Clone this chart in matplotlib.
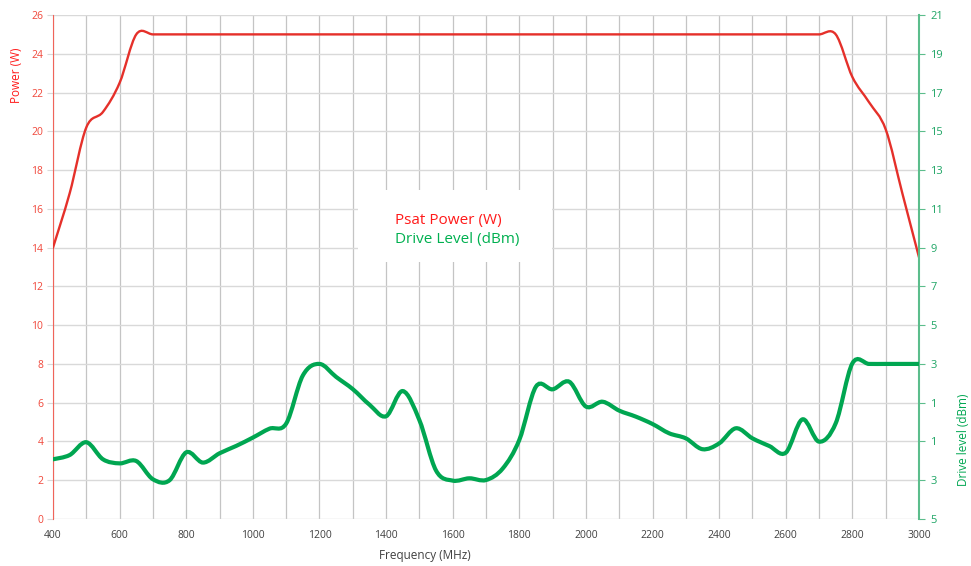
import numpy as np
import matplotlib
matplotlib.use("Agg")
import matplotlib.pyplot as plt
from matplotlib.path import Path
from matplotlib.patches import PathPatch, Rectangle
from matplotlib.ticker import FuncFormatter

# --- data ---
freq = list(range(400, 3001, 50))

psat_w = [14.0, 16.8, 20.2, 21.0, 22.5, 25.0] + [25.0] * 42 + \
         [22.8, 21.5, 20.1, 16.8, 13.5]

drive_dbm = [-1.92, -1.70, -1.04, -1.92, -2.13, -2.01, -2.95, -3.00,
             -1.56, -2.09, -1.61, -1.23, -0.80, -0.34, -0.08,
             2.40, 3.00, 2.33, 1.70, 0.90, 0.30, 1.60, 0.10, -2.50,
             -3.02, -2.90, -2.99, -2.40, -0.92, 1.83, 1.69, 2.08,
             0.80, 1.05, 0.59, 0.28, -0.10, -0.58, -0.84, -1.40,
             -1.10, -0.32, -0.84, -1.23, -1.58, 0.14, -1.01, -0.06,
             3.03, 3.0, 3.0, 3.0, 3.0]

freq_grid = list(range(400, 3001, 100))
power_ticks = list(range(0, 27, 2))
drive_ticks = list(range(-5, 22, 2))

RED = '#E5302A'
GREEN = '#00A651'


def smooth_path(x, y):
    """Excel style smoothed line as cubic bezier segments."""
    x = np.asarray(x, float)
    y = np.asarray(y, float)
    px = np.concatenate([[x[0]], x, [x[-1]]])
    py = np.concatenate([[y[0]], y, [y[-1]]])
    verts = [(x[0], y[0])]
    codes = [Path.MOVETO]
    for i in range(1, len(px) - 2):
        c1 = (px[i] + (px[i + 1] - px[i - 1]) / 6, py[i] + (py[i + 1] - py[i - 1]) / 6)
        c2 = (px[i + 1] - (px[i + 2] - px[i]) / 6, py[i + 1] - (py[i + 2] - py[i]) / 6)
        verts += [c1, c2, (px[i + 1], py[i + 1])]
        codes += [Path.CURVE4] * 3
    return Path(verts, codes)


plt.rcParams['font.family'] = ['Open Sans', 'DejaVu Sans']

fig = plt.figure(figsize=(9.71, 5.66), dpi=100)
ax = fig.add_axes([53 / 971, 1 - 519 / 566, 866 / 971, 504 / 566])
ax2 = ax.twinx()

# grid
ax.set_xlim(400, 3000)
ax.set_ylim(0, 26)
ax2.set_ylim(-5, 21)
ax.set_xticks(freq_grid)
ax.xaxis.set_major_formatter(FuncFormatter(lambda v, p: f"{int(v)}" if int(v) % 200 == 0 else ""))
ax.set_yticks(power_ticks)
ax2.set_yticks(drive_ticks)
ax.grid(axis='y', color='#D9D9D9', lw=1.0)
ax.grid(axis='x', color='#C4C4C4', lw=0.9)
ax.set_axisbelow(True)

# legend box
ax.add_patch(Rectangle((0.352, 0.51), 0.224, 0.143, transform=ax.transAxes,
                       facecolor='white', edgecolor='none', zorder=2))
ax.text(0.395, 0.593, 'Psat Power (W)', transform=ax.transAxes, color='#FF1A1A',
        fontsize=11, va='center', ha='left', zorder=3)
ax.text(0.395, 0.554, 'Drive Level (dBm)', transform=ax.transAxes, color='#00B050',
        fontsize=11, va='center', ha='left', zorder=3)

# lines
ax.add_patch(PathPatch(smooth_path(freq, psat_w), fill=False, edgecolor=RED,
                       lw=1.7, zorder=4, capstyle='round'))
ax2.add_patch(PathPatch(smooth_path(freq, drive_dbm), fill=False, edgecolor=GREEN,
                        lw=3.0, zorder=4, capstyle='round'))

# spines
for s in ['top', 'bottom']:
    ax.spines[s].set_visible(False)
    ax2.spines[s].set_visible(False)
ax.spines['right'].set_visible(False)
ax2.spines['left'].set_visible(False)
ax.spines['left'].set_color('#F0645A')
ax2.spines['right'].set_color('#5CBD8C')
ax2.spines['right'].set_linewidth(1.5)

# ticks
ax.tick_params(axis='x', length=0, labelsize=7.5, colors='#404040', pad=8)
ax.tick_params(axis='y', length=4, color='#D9D9D9', labelcolor='#F0473A', labelsize=7.5, pad=3)
ax2.tick_params(axis='y', length=4, color='#5CBD8C', labelcolor='#1EA565', labelsize=8, pad=4)
ax2.yaxis.set_major_formatter(FuncFormatter(lambda v, p: f"{abs(int(round(v)))}"))

fig.text(0.438, 0.018, 'Frequency (MHz)', color='#404040', fontsize=8.5, ha='center', va='center')
fig.text(17 / 971, 1 - 75 / 566, 'Power (W)', color='#FF1A1A', fontsize=8.5,
         rotation=90, ha='center', va='center')
fig.text(963 / 971, 1 - 440 / 566, 'Drive level (dBm)', color='#00A651', fontsize=8.5,
         rotation=90, ha='center', va='center')

fig.savefig('out.png', dpi=100)
